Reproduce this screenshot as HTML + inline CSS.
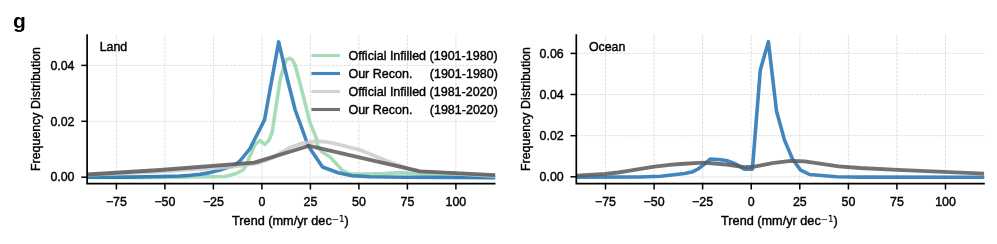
<!DOCTYPE html>
<html><head><meta charset="utf-8"><title>g</title>
<style>
html,body{margin:0;padding:0;background:#fff}
svg{display:block}
text{font-family:"Liberation Sans",sans-serif;font-size:12.4px;fill:#000;stroke:#000;stroke-width:0.4px}
.g{stroke:#d9d9d9;stroke-width:0.85;stroke-dasharray:2.75 1.2;fill:none}
.sp{stroke:#000;stroke-width:1.7;fill:none;stroke-linejoin:miter;stroke-linecap:butt}
.tk{stroke:#000;stroke-width:1.5}
.c{fill:none;stroke-opacity:0.85;stroke-width:3.6;stroke-linejoin:round;stroke-linecap:butt}
</style></head><body>
<svg width="997" height="244" viewBox="0 0 997 244">
<rect width="997" height="244" fill="#fff"/>
<text x="12.9" y="27.8" style="font-weight:bold;font-size:21px;stroke:none">g</text>
<defs>
<clipPath id="cl"><rect x="87.1" y="34" width="408.3" height="150"/></clipPath>
<clipPath id="cr"><rect x="576.3" y="34" width="408.4" height="150"/></clipPath>
</defs>
<line x1="116.4" y1="183.7" x2="116.4" y2="34.3" class="g"/>
<line x1="164.9" y1="183.7" x2="164.9" y2="34.3" class="g"/>
<line x1="213.4" y1="183.7" x2="213.4" y2="34.3" class="g"/>
<line x1="261.9" y1="183.7" x2="261.9" y2="34.3" class="g"/>
<line x1="310.4" y1="183.7" x2="310.4" y2="34.3" class="g"/>
<line x1="358.9" y1="183.7" x2="358.9" y2="34.3" class="g"/>
<line x1="407.4" y1="183.7" x2="407.4" y2="34.3" class="g"/>
<line x1="455.9" y1="183.7" x2="455.9" y2="34.3" class="g"/>
<line x1="87.1" y1="177.2" x2="495.0" y2="177.2" class="g"/>
<line x1="87.1" y1="121.3" x2="495.0" y2="121.3" class="g"/>
<line x1="87.1" y1="65.4" x2="495.0" y2="65.4" class="g"/>
<line x1="605.5" y1="183.7" x2="605.5" y2="34.3" class="g"/>
<line x1="654.1" y1="183.7" x2="654.1" y2="34.3" class="g"/>
<line x1="702.6" y1="183.7" x2="702.6" y2="34.3" class="g"/>
<line x1="751.2" y1="183.7" x2="751.2" y2="34.3" class="g"/>
<line x1="799.8" y1="183.7" x2="799.8" y2="34.3" class="g"/>
<line x1="848.4" y1="183.7" x2="848.4" y2="34.3" class="g"/>
<line x1="896.9" y1="183.7" x2="896.9" y2="34.3" class="g"/>
<line x1="945.5" y1="183.7" x2="945.5" y2="34.3" class="g"/>
<line x1="576.3" y1="176.8" x2="984.3" y2="176.8" class="g"/>
<line x1="576.3" y1="135.7" x2="984.3" y2="135.7" class="g"/>
<line x1="576.3" y1="94.5" x2="984.3" y2="94.5" class="g"/>
<line x1="576.3" y1="53.4" x2="984.3" y2="53.4" class="g"/>
<g clip-path="url(#cl)">
<polyline class="c" stroke="#96d6ab" points="87.1,177.4 160.0,177.4 225.0,176.5 235.0,174.0 243.0,170.0 247.0,164.0 248.1,160.0 255.1,144.6 259.6,140.6 265.1,144.4 269.1,140.0 272.2,132.0 273.7,122.0 280.1,80.0 284.1,65.0 286.5,59.5 289.5,58.3 292.5,60.0 295.0,65.0 299.2,80.0 309.8,122.0 316.3,138.0 317.6,146.0 321.0,151.0 330.1,157.0 342.2,170.3 350.1,173.8 365.2,174.0 385.2,173.6 400.0,172.6 430.0,174.6 460.0,177.0 495.5,177.5"/>
<polyline class="c" stroke="#2171b5" points="87.1,177.3 130.0,177.1 160.0,176.5 180.0,176.0 190.0,175.3 200.0,174.2 210.0,172.6 220.0,170.0 235.0,165.0 240.0,161.0 250.0,148.5 264.5,120.0 278.7,41.9 287.2,78.5 295.2,110.0 303.2,132.0 308.0,145.5 322.5,167.0 338.1,172.7 352.1,175.8 369.2,176.8 405.0,177.2 495.5,177.6"/>
<polyline class="c" style="stroke-width:3.8" stroke="#cbcbcb" points="87.1,174.8 160.0,171.6 230.2,167.0 260.0,162.8 272.0,158.0 284.0,151.0 290.0,147.5 302.3,143.4 310.0,142.0 317.7,141.2 326.0,141.8 335.0,143.5 360.2,150.0 390.0,162.3 405.0,167.3 420.0,171.7 495.5,176.0"/>
<polyline class="c" style="stroke-width:3.8" stroke="#595959" points="87.1,174.5 160.0,170.0 254.2,162.6 309.3,145.8 420.0,171.4 495.5,175.1"/>
</g>
<g clip-path="url(#cr)">
<polyline class="c" stroke="#2171b5" points="576.3,177.1 640.0,177.0 660.6,176.2 684.7,173.5 692.8,171.7 698.0,169.0 703.2,165.1 710.2,159.1 718.0,159.5 726.3,160.5 735.3,163.7 744.3,169.1 752.4,169.1 760.3,70.0 768.4,41.7 776.5,111.1 784.5,140.1 792.5,159.0 800.6,170.1 809.6,174.5 836.7,176.7 860.0,177.1 984.4,177.3"/>
<polyline class="c" style="stroke-width:3.8" stroke="#595959" points="576.3,175.7 605.4,173.9 618.0,172.5 628.5,170.9 642.0,168.6 654.6,166.6 670.0,164.8 680.0,164.0 703.2,162.6 726.3,164.5 744.3,167.1 754.4,166.7 772.4,163.1 790.5,160.9 804.6,161.4 838.7,166.4 860.0,168.0 897.4,169.9 984.1,173.7"/>
</g>
<path d="M87.1,34.3 V183.7 H495.5" class="sp"/>
<line x1="116.4" y1="183.7" x2="116.4" y2="189.5" class="tk"/>
<text x="116.4" y="205.6" text-anchor="middle">−75</text>
<line x1="164.9" y1="183.7" x2="164.9" y2="189.5" class="tk"/>
<text x="164.9" y="205.6" text-anchor="middle">−50</text>
<line x1="213.4" y1="183.7" x2="213.4" y2="189.5" class="tk"/>
<text x="213.4" y="205.6" text-anchor="middle">−25</text>
<line x1="261.9" y1="183.7" x2="261.9" y2="189.5" class="tk"/>
<text x="261.9" y="205.6" text-anchor="middle">0</text>
<line x1="310.4" y1="183.7" x2="310.4" y2="189.5" class="tk"/>
<text x="310.4" y="205.6" text-anchor="middle">25</text>
<line x1="358.9" y1="183.7" x2="358.9" y2="189.5" class="tk"/>
<text x="358.9" y="205.6" text-anchor="middle">50</text>
<line x1="407.4" y1="183.7" x2="407.4" y2="189.5" class="tk"/>
<text x="407.4" y="205.6" text-anchor="middle">75</text>
<line x1="455.9" y1="183.7" x2="455.9" y2="189.5" class="tk"/>
<text x="455.9" y="205.6" text-anchor="middle">100</text>
<line x1="81.3" y1="177.2" x2="87.1" y2="177.2" class="tk"/>
<text x="74.5" y="181.4" text-anchor="end">0.00</text>
<line x1="81.3" y1="121.3" x2="87.1" y2="121.3" class="tk"/>
<text x="74.5" y="125.5" text-anchor="end">0.02</text>
<line x1="81.3" y1="65.4" x2="87.1" y2="65.4" class="tk"/>
<text x="74.5" y="69.6" text-anchor="end">0.04</text>
<text x="99.7" y="51.0">Land</text>
<text transform="translate(40.2,109.0) rotate(-90)" text-anchor="middle">Frequency Distribution</text>
<text x="232.1" y="225.2" style="font-size:12.7px">Trend (mm/yr dec<tspan dy="-3.2" style="font-size:8.7px;font-family:DejaVu Sans,sans-serif;stroke-width:0.1px">−1</tspan><tspan dy="3.2">)</tspan></text>
<path d="M576.3,34.3 V183.7 H984.8" class="sp"/>
<line x1="605.5" y1="183.7" x2="605.5" y2="189.5" class="tk"/>
<text x="605.5" y="205.6" text-anchor="middle">−75</text>
<line x1="654.1" y1="183.7" x2="654.1" y2="189.5" class="tk"/>
<text x="654.1" y="205.6" text-anchor="middle">−50</text>
<line x1="702.6" y1="183.7" x2="702.6" y2="189.5" class="tk"/>
<text x="702.6" y="205.6" text-anchor="middle">−25</text>
<line x1="751.2" y1="183.7" x2="751.2" y2="189.5" class="tk"/>
<text x="751.2" y="205.6" text-anchor="middle">0</text>
<line x1="799.8" y1="183.7" x2="799.8" y2="189.5" class="tk"/>
<text x="799.8" y="205.6" text-anchor="middle">25</text>
<line x1="848.4" y1="183.7" x2="848.4" y2="189.5" class="tk"/>
<text x="848.4" y="205.6" text-anchor="middle">50</text>
<line x1="896.9" y1="183.7" x2="896.9" y2="189.5" class="tk"/>
<text x="896.9" y="205.6" text-anchor="middle">75</text>
<line x1="945.5" y1="183.7" x2="945.5" y2="189.5" class="tk"/>
<text x="945.5" y="205.6" text-anchor="middle">100</text>
<line x1="570.5" y1="176.8" x2="576.3" y2="176.8" class="tk"/>
<text x="563.7" y="181.0" text-anchor="end">0.00</text>
<line x1="570.5" y1="135.7" x2="576.3" y2="135.7" class="tk"/>
<text x="563.7" y="139.8" text-anchor="end">0.02</text>
<line x1="570.5" y1="94.5" x2="576.3" y2="94.5" class="tk"/>
<text x="563.7" y="98.7" text-anchor="end">0.04</text>
<line x1="570.5" y1="53.4" x2="576.3" y2="53.4" class="tk"/>
<text x="563.7" y="57.6" text-anchor="end">0.06</text>
<text x="588.9" y="51.0">Ocean</text>
<text transform="translate(530.3,109.0) rotate(-90)" text-anchor="middle">Frequency Distribution</text>
<text x="721.1" y="225.2" style="font-size:12.7px">Trend (mm/yr dec<tspan dy="-3.2" style="font-size:8.7px;font-family:DejaVu Sans,sans-serif;stroke-width:0.1px">−1</tspan><tspan dy="3.2">)</tspan></text>
<line x1="311.4" y1="55.5" x2="340" y2="55.5" stroke="#96d6ab" stroke-width="3.1" stroke-opacity="0.85"/>
<text x="348.4" y="60.1" style="white-space:pre;font-size:12.52px">Official Infilled (1901-1980)</text>
<line x1="311.4" y1="73.5" x2="340" y2="73.5" stroke="#2171b5" stroke-width="3.1" stroke-opacity="0.85"/>
<text x="348.4" y="78.1" style="white-space:pre;font-size:12.52px">Our Recon.     (1901-1980)</text>
<line x1="311.4" y1="91.5" x2="340" y2="91.5" stroke="#cbcbcb" stroke-width="3.1" stroke-opacity="0.85"/>
<text x="348.4" y="96.1" style="white-space:pre;font-size:12.52px">Official Infilled (1981-2020)</text>
<line x1="311.4" y1="109.5" x2="340" y2="109.5" stroke="#595959" stroke-width="3.1" stroke-opacity="0.85"/>
<text x="348.4" y="114.1" style="white-space:pre;font-size:12.52px">Our Recon.     (1981-2020)</text>
</svg>
</body></html>
